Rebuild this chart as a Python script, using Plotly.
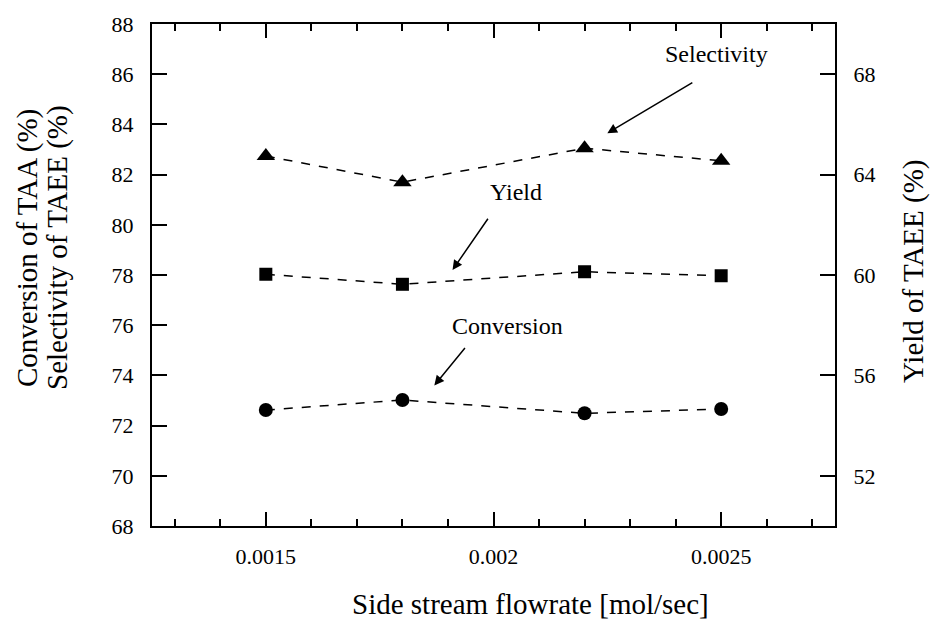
import plotly.graph_objects as go

flowrate = [0.0015, 0.0018, 0.0022, 0.0025]
selectivity = [82.74, 81.70, 83.05, 82.55]
conversion = [72.62, 73.02, 72.49, 72.66]
yield_taee = [60.03, 59.63, 60.13, 59.97]

x_ticks = [0.0015, 0.002, 0.0025]
x_tick_text = ["0.0015", "0.002", "0.0025"]
left_ticks = list(range(68, 89, 2))
right_ticks = [52, 56, 60, 64, 68]

FONT = "Liberation Serif"
TICK = 22
TITLE = 29
NOTE = 24
line_style = dict(color="black", width=1.5, dash="dash")

fig = go.Figure()
fig.add_trace(go.Scatter(x=flowrate, y=selectivity, mode="lines+markers",
                         line=line_style,
                         marker=dict(symbol="triangle-up", size=16, color="black"),
                         name="Selectivity", yaxis="y"))
fig.add_trace(go.Scatter(x=flowrate, y=conversion, mode="lines+markers",
                         line=line_style,
                         marker=dict(symbol="circle", size=14, color="black"),
                         name="Conversion", yaxis="y"))
fig.add_trace(go.Scatter(x=flowrate, y=yield_taee, mode="lines+markers",
                         line=line_style,
                         marker=dict(symbol="square", size=13, color="black"),
                         name="Yield", yaxis="y2"))

def arrow(text, tx, ty, ax, ay, hx, hy):
    fig.add_annotation(x=tx, y=ty, xref="x", yref="y", text=text, showarrow=False,
                       xanchor="center", yanchor="middle",
                       font=dict(family=FONT, size=NOTE, color="black"))
    fig.add_annotation(x=hx, y=hy, ax=ax, ay=ay, xref="x", yref="y", axref="x", ayref="y",
                       text="", showarrow=True, arrowhead=2, arrowsize=1.3,
                       arrowwidth=1.5, arrowcolor="black")

arrow("Selectivity", 0.00249, 86.8, 0.00244, 85.7, 0.00225, 83.65)
arrow("Yield", 0.00205, 81.3, 0.00199, 80.3, 0.00191, 78.2)
arrow("Conversion", 0.00203, 75.95, 0.00194, 75.15, 0.00187, 73.6)

# axis titles as annotations for exact placement
PW, PH, L, T = 683, 502, 152, 24
def px_x(px):
    return (px - L) / PW
def px_y(py):
    return 1 - (py - T) / PH

def title(text, px, py, angle=0):
    fig.add_annotation(x=px_x(px), y=px_y(py), xref="paper", yref="paper",
                       text=text, textangle=angle, showarrow=False,
                       xanchor="center", yanchor="middle",
                       font=dict(family=FONT, size=TITLE))

title("Conversion of TAA (%)", 27, 248, -90)
title("Selectivity of TAEE (%)", 57, 248, -90)
title("Yield of TAEE (%)", 913, 272, -90)
title("Side stream flowrate [mol/sec]", 530, 604)

fig.update_layout(
    width=931, height=620,
    margin=dict(l=152, r=96, t=24, b=94),
    paper_bgcolor="white", plot_bgcolor="white",
    showlegend=False,
    font=dict(family=FONT, color="black", size=TICK),
    xaxis=dict(range=[0.00125, 0.00275], tickvals=x_ticks, ticktext=x_tick_text,
               ticks="inside", ticklen=14, tickwidth=1.5, tickcolor="black",
               minor=dict(dtick=0.0001, tick0=0.0013, ticks="inside", ticklen=7,
                          tickwidth=1.5, tickcolor="black"),
               showline=True, linecolor="black", linewidth=2, mirror="ticks",
               showgrid=False, zeroline=False, ticklabelstandoff=10,
               tickfont=dict(family=FONT, size=TICK)),
    yaxis=dict(range=[68, 88], tickvals=left_ticks,
               ticks="inside", ticklen=15, tickwidth=1.5, tickcolor="black",
               showline=True, linecolor="black", linewidth=2,
               showgrid=False, zeroline=False, ticklabelstandoff=12,
               tickfont=dict(family=FONT, size=TICK)),
    yaxis2=dict(range=[50, 70], tickvals=right_ticks, overlaying="y", side="right",
                ticks="inside", ticklen=15, tickwidth=1.5, tickcolor="black",
                showline=True, linecolor="black", linewidth=2,
                showgrid=False, zeroline=False, ticklabelstandoff=12,
                tickfont=dict(family=FONT, size=TICK)),
)

fig.write_html("out.html")
